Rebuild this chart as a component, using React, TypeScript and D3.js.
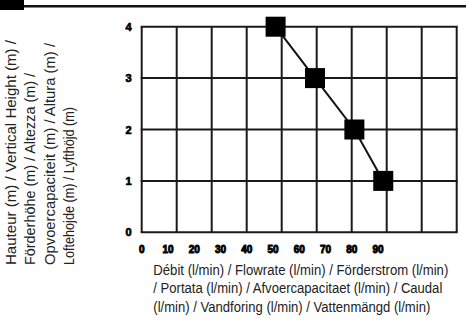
import React from "react";
import * as d3 from "d3";

const flowValues = [51, 66, 81, 92];
const heightValues = [4, 3, 2, 1];
const xTickValues = [0, 10, 20, 30, 40, 50, 60, 70, 80, 90];
const yTickValues = [0, 1, 2, 3, 4];
const gridColumnCount = 9;
const yTitleLines = [
  "Hauteur (m) / Vertical Height (m) /",
  "Förderhöhe (m) / Altezza (m) /",
  "Opvoercapaciteit (m) / Altura (m) /",
  "Loftehojde (m) / Lyfthöjd (m)",
];
const yTitleWidths = [225, 192, 222, 158];
const xTitleLines = [
  "Débit (l/min) / Flowrate (l/min) / Förderstrom (l/min)",
  "/ Portata (l/min) / Afvoercapacitaet (l/min) / Caudal",
  "(l/min) / Vandforing (l/min) / Vattenmängd (l/min)",
];
const xTitleWidths = [295, 289, 277];

const W = 466;
const H = 334;
const plotLeft = 141.7;
const plotRight = 456.7;
const plotTop = 26.7;
const plotBottom = 232.3;

export default function App() {
  const x = d3.scaleLinear().domain([0, 90]).range([plotLeft, 378]);
  const y = d3.scaleLinear().domain([0, 4]).range([plotBottom, plotTop]);
  const gx = d3.scaleLinear().domain([0, gridColumnCount]).range([plotLeft, plotRight]);
  const gridCols = d3.range(gridColumnCount + 1);
  const points = flowValues.map((f, i) => [f, heightValues[i]] as [number, number]);
  const line = d3
    .line<[number, number]>()
    .x((d) => x(d[0]))
    .y((d) => y(d[1]));
  const markerSize = 20;
  const lineColor = "#1a1a1a";
  const font = "'Liberation Sans', Arial, sans-serif";
  const squeeze = 0.9;

  return (
    <svg
      width={W}
      height={H}
      style={{ position: "absolute", left: 0, top: 0, background: "#fff" }}
    >
      {/* header decoration */}
      <rect x={0} y={0} width={24} height={10} fill="#000" />
      <line x1={24} x2={W} y1={6.2} y2={6.2} stroke="#111" strokeWidth={2.5} />

      {/* grid */}
      {gridCols.map((c) => (
        <line
          key={"v" + c}
          x1={gx(c)}
          x2={gx(c)}
          y1={y(0)}
          y2={y(4)}
          stroke={lineColor}
          strokeWidth={2}
        />
      ))}
      {yTickValues.map((t) => (
        <line
          key={"h" + t}
          x1={plotLeft - 1}
          x2={plotRight + 1}
          y1={y(t)}
          y2={y(t)}
          stroke={lineColor}
          strokeWidth={2}
        />
      ))}

      {/* y tick labels */}
      {yTickValues.map((t) => (
        <text
          key={"yt" + t}
          x={128.5}
          y={y(t) + 4}
          textAnchor="middle"
          fontFamily={font}
          fontWeight={900}
          fontSize={11}
          fill="#000"
          stroke="#000"
          strokeWidth={0.7}
        >
          {t}
        </text>
      ))}

      {/* x tick labels */}
      {xTickValues.map((t) => (
        <text
          key={"xt" + t}
          x={x(t)}
          y={253}
          textAnchor="middle"
          fontFamily={font}
          fontWeight={900}
          fontSize={10}
          fill="#000"
          stroke="#000"
          strokeWidth={0.9}
        >
          {t}
        </text>
      ))}

      {/* data line */}
      <path d={line(points) || ""} fill="none" stroke="#111" strokeWidth={2} />
      {points.map((p, i) => (
        <rect
          key={"m" + i}
          x={x(p[0]) - markerSize / 2}
          y={y(p[1]) - markerSize / 2}
          width={markerSize}
          height={markerSize}
          fill="#000"
        />
      ))}

      {/* y title */}
      <g transform="translate(0,265) rotate(-90)">
        {yTitleLines.map((s, i) => (
          <text
            key={"yl" + i}
            x={0}
            y={15.5 + i * 19.6}
            fontFamily={font}
            fontSize={14}
            fill="#222"
            textLength={yTitleWidths[i]}
            lengthAdjust="spacingAndGlyphs"
          >
            {s}
          </text>
        ))}
      </g>

      {/* x title */}
      {xTitleLines.map((s, i) => (
        <g key={"xl" + i} transform={`translate(153.3,${275 + i * 18.4}) scale(${squeeze},1)`}>
          <text
            x={0}
            y={0}
            fontFamily={font}
            fontSize={14.5}
            fill="#222"
            textLength={xTitleWidths[i] / squeeze}
            lengthAdjust="spacingAndGlyphs"
          >
            {s}
          </text>
        </g>
      ))}
    </svg>
  );
}
